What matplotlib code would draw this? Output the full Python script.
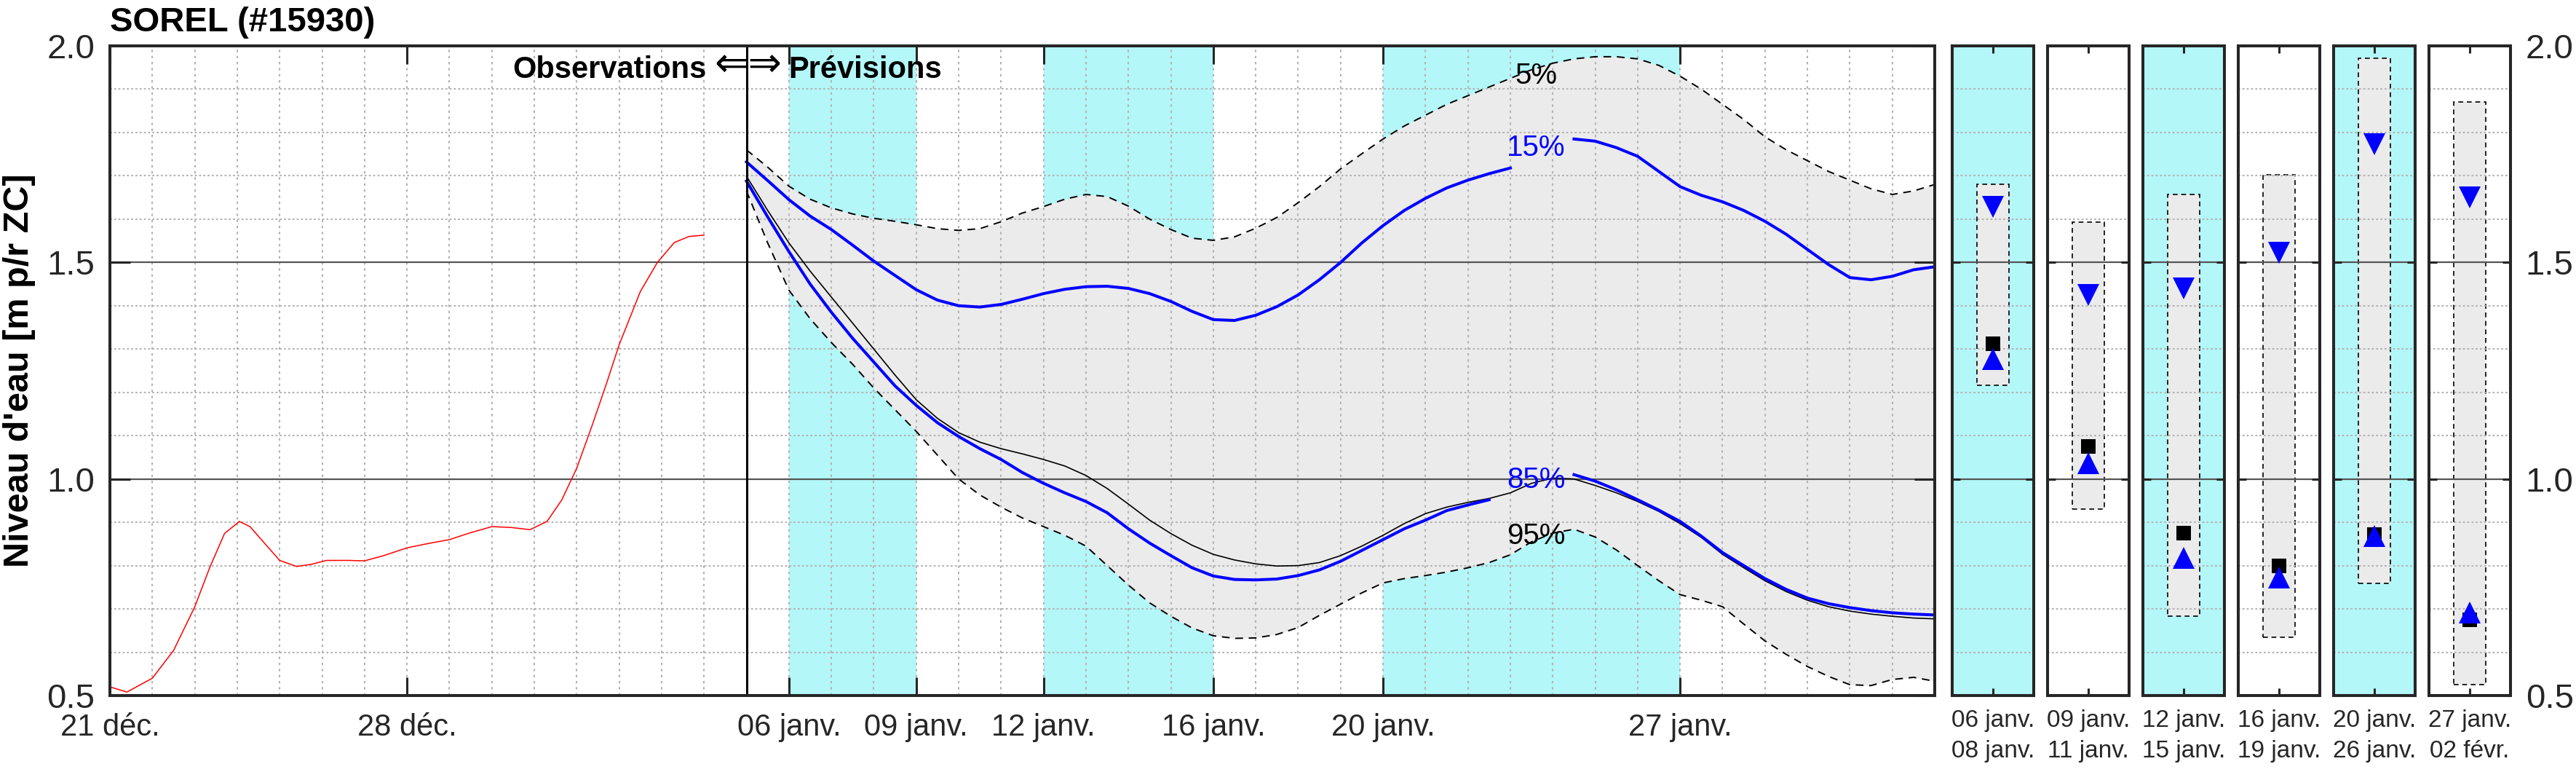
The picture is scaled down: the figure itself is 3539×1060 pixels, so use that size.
import numpy as np
import matplotlib.pyplot as plt
from matplotlib.patches import Rectangle
from matplotlib.ticker import MultipleLocator

plt.rcParams['font.family'] = ['Liberation Sans', 'DejaVu Sans']

# ---- axe des x : jours depuis le 21 déc.
tick_days = [0, 7, 16, 19, 22, 26, 30, 37]
tick_labels = ["21 déc.", "28 déc.", "06 janv.", "09 janv.", "12 janv.",
               "16 janv.", "20 janv.", "27 janv."]
boundary_day = 15
x_end = 43
bands = [(16, 19), (22, 26), (30, 37)]

# ---- observations (rouge)
obs_days = [0, 0.4, 1.0, 1.5, 2.0, 2.35, 2.7, 3.05, 3.3, 3.65, 4.0, 4.4, 4.75,
            5.1, 5.6, 6.0, 6.45, 7.0, 7.5, 8.0, 8.5, 9.0, 9.45, 9.9, 10.3,
            10.65, 11.0, 11.35, 11.7, 12.0, 12.5, 12.9, 13.3, 13.65, 14.0]
obs_level = [0.52, 0.508, 0.54, 0.604, 0.705, 0.795, 0.874, 0.902, 0.89,
             0.851, 0.812, 0.798, 0.803, 0.812, 0.812, 0.811, 0.823, 0.841,
             0.851, 0.86, 0.876, 0.89, 0.888, 0.883, 0.902, 0.952, 1.025,
             1.12, 1.22, 1.31, 1.433, 1.50, 1.546, 1.56, 1.563]

# ---- prévisions (pas de 0.5 jour, du 05 janv. au 02 févr.)
fc_days = np.arange(15, 43.01, 0.5)
p05 = [1.76, 1.72, 1.676, 1.646, 1.626, 1.612, 1.602, 1.595, 1.587, 1.578,
       1.574, 1.578, 1.594, 1.614, 1.629, 1.646, 1.657, 1.652, 1.630, 1.600,
       1.576, 1.556, 1.551, 1.559, 1.579, 1.604, 1.638, 1.675, 1.716, 1.751,
       1.785, 1.815, 1.84, 1.865, 1.885, 1.905, 1.925, 1.945, 1.96, 1.97,
       1.975, 1.975, 1.97, 1.955, 1.93, 1.90, 1.865, 1.83, 1.79, 1.76,
       1.735, 1.71, 1.69, 1.67, 1.657, 1.665, 1.68]
p15 = [1.732, 1.689, 1.645, 1.607, 1.576, 1.54, 1.503, 1.47, 1.437, 1.413,
       1.40, 1.397, 1.403, 1.415, 1.428, 1.438, 1.444, 1.445, 1.44, 1.428,
       1.41, 1.387, 1.368, 1.366, 1.378, 1.398, 1.425, 1.46, 1.50, 1.545,
       1.585, 1.62, 1.648, 1.672, 1.69, 1.705, 1.718, np.nan, np.nan, 1.785,
       1.78, 1.765, 1.745, 1.71, 1.675, 1.655, 1.64, 1.62, 1.595, 1.565,
       1.53, 1.495, 1.465, 1.46, 1.468, 1.483, 1.49]
p_mid = [1.699, 1.62, 1.545, 1.48, 1.42, 1.36, 1.30, 1.24, 1.183, 1.14,
         1.107, 1.085, 1.07, 1.058, 1.045, 1.03, 1.008, 0.978, 0.942, 0.905,
         0.874, 0.847, 0.826, 0.813, 0.804, 0.799, 0.80, 0.807, 0.823, 0.845,
         0.87, 0.897, 0.92, 0.935, 0.946, 0.955, 0.968, 0.99, 1.002, 1.0,
         0.985, 0.968, 0.948, 0.925, 0.897, 0.865, 0.826, 0.795, 0.765, 0.74,
         0.72, 0.705, 0.695, 0.688, 0.683, 0.679, 0.677]
p85 = [1.688, 1.605, 1.525, 1.45, 1.385, 1.325, 1.27, 1.215, 1.17, 1.13,
       1.098, 1.07, 1.045, 1.015, 0.99, 0.968, 0.948, 0.922, 0.885, 0.852,
       0.823, 0.795, 0.776, 0.768, 0.767, 0.769, 0.777, 0.79, 0.81, 0.835,
       0.86, 0.885, 0.905, 0.927, 0.94, 0.952, np.nan, np.nan, np.nan, 1.01,
       0.995, 0.975, 0.952, 0.928, 0.902, 0.868, 0.83, 0.80, 0.77, 0.745,
       0.725, 0.712, 0.703, 0.696, 0.691, 0.688, 0.686]
p95 = [1.665, 1.545, 1.436, 1.37, 1.315, 1.265, 1.21, 1.16, 1.11, 1.055,
       1.0, 0.963, 0.935, 0.91, 0.89, 0.87, 0.845, 0.80, 0.755, 0.714,
       0.683, 0.656, 0.638, 0.632, 0.633, 0.641, 0.657, 0.685, 0.711, 0.737,
       0.76, 0.77, 0.777, 0.785, 0.795, 0.807, 0.825, 0.855, 0.875, 0.884,
       0.866, 0.836, 0.80, 0.765, 0.733, 0.72, 0.705, 0.665, 0.626, 0.595,
       0.567, 0.544, 0.525, 0.523, 0.537, 0.542, 0.533]

# ---- panneaux de synthèse par période
period_start = ["06 janv.", "09 janv.", "12 janv.", "16 janv.", "20 janv.", "27 janv."]
period_end = ["08 janv.", "11 janv.", "15 janv.", "19 janv.", "26 janv.", "02 févr."]
period_low = [1.217, 0.931, 0.684, 0.635, 0.759, 0.526]
period_high = [1.681, 1.593, 1.657, 1.703, 1.972, 1.870]
period_p15 = [1.629, 1.425, 1.44, 1.523, 1.773, 1.651]
period_p85 = [1.277, 1.037, 0.817, 0.772, 0.868, 0.692]
period_mid = [1.313, 1.075, 0.875, 0.799, 0.871, 0.675]

CYAN = "#b3f7f9"
FILL = "#ebebeb"
DARK = "#262626"
GRID = "#b4b4b4"

W, H = 3539, 1060
fig = plt.figure(figsize=(W / 100, H / 100), dpi=100)


def px_axes(l, t, r, b):
    return fig.add_axes([l / W, 1 - b / H, (r - l) / W, (b - t) / H])


def style_y(a):
    a.set_ylim(0.5, 2.0)
    a.set_yticks([0.5, 1.0, 1.5, 2.0])
    a.set_yticklabels(["0.5", "1.0", "1.5", "2.0"])
    a.yaxis.set_minor_locator(MultipleLocator(0.1))
    a.grid(which="minor", axis="y", color=GRID, lw=1.5, ls=(0, (1.3, 1.5)))
    a.grid(which="major", axis="y", color="#555555", lw=1.6, ls="-")
    a.set_axisbelow(True)
    for s in a.spines.values():
        s.set_linewidth(2.9)
        s.set_color(DARK)
        s.set_zorder(6)


# ---- graphique principal
ax = px_axes(151, 63, 2658, 955)
ax.set_xlim(0, x_end)
style_y(ax)
ax.set_xticks(tick_days)
ax.set_xticklabels(tick_labels)
ax.xaxis.set_minor_locator(MultipleLocator(1))
ax.grid(which="both", axis="x", color=GRID, lw=1.5, ls=(0, (1.6, 2.4)))
ax.tick_params(axis="x", which="major", direction="in", length=18, width=2.2,
               top=True, labelsize=30, pad=17, colors=DARK)
ax.tick_params(axis="y", which="major", direction="in", length=20, width=2.2,
               right=True, labelsize=34, pad=15, colors=DARK)
ax.tick_params(which="minor", length=0)

for a, b in bands:
    ax.axvspan(a, b, color=CYAN, lw=0, zorder=0.1)
ax.fill_between(fc_days, p95, p05, color=FILL, lw=0, zorder=0.3)

ax.plot(obs_days, obs_level, color="red", lw=1.1, zorder=3)
ax.plot(fc_days, p05, color="k", lw=1.4, ls=(0, (5.5, 4)), zorder=3)
ax.plot(fc_days, p95, color="k", lw=1.4, ls=(0, (5.5, 4)), zorder=3)
ax.plot(fc_days, p_mid, color="k", lw=1.2, zorder=3)
ax.plot(fc_days, p15, color="blue", lw=2.9, zorder=4)
ax.plot(fc_days, p85, color="blue", lw=2.9, zorder=4)
ax.axvline(boundary_day, color="k", lw=2.2, zorder=5)

ax.text(33.6, 1.931, "5%", fontsize=29, color="k", ha="center", va="center", zorder=6)
ax.text(33.6, 1.765, "15%", fontsize=29, color="blue", ha="center", va="center", zorder=6)
ax.text(33.6, 0.998, "85%", fontsize=29, color="blue", ha="center", va="center", zorder=6)
ax.text(33.6, 0.868, "95%", fontsize=29, color="k", ha="center", va="center", zorder=6)

ax.text(14.05, 1.926, "Observations", fontsize=30, fontweight="bold",
        ha="right", va="baseline", zorder=6)
ax.text(15.03, 1.93, "⇐⇒", fontsize=40, family="DejaVu Sans",
        ha="center", va="baseline", zorder=6)
ax.text(15.99, 1.926, "Prévisions", fontsize=30, fontweight="bold",
        ha="left", va="baseline", zorder=6)

fig.text(151 / W, 1 - 43 / H, "SOREL (#15930)", fontsize=34, fontweight="bold",
         ha="left", va="baseline")
fig.text(27 / W, 1 - 509 / H, "Niveau d'eau [m p/r ZC]", fontsize=35,
         fontweight="bold", rotation=90, ha="center", va="center")

# ---- panneaux
for i in range(6):
    pa = px_axes(2682 + 131 * i, 63, 2794 + 131 * i, 955)
    pa.set_xlim(-1, 1)
    style_y(pa)
    if i % 2 == 0:
        pa.set_facecolor(CYAN)
    low, high = period_low[i], period_high[i]
    pa.add_patch(Rectangle((-0.4, low), 0.8, high - low, facecolor=FILL,
                           edgecolor="k", lw=1.2, ls=(0, (4, 3)), zorder=0.3))
    pa.plot(0, period_p15[i], "v", color="blue", ms=21, mew=0, zorder=3)
    pa.plot(0, period_mid[i], "s", color="k", ms=14, mew=0, zorder=3)
    pa.plot(0, period_p85[i], "^", color="blue", ms=21, mew=0, zorder=4)
    pa.set_xticks([0])
    pa.set_xticklabels([period_start[i] + "\n" + period_end[i]], linespacing=1.45)
    pa.tick_params(axis="x", direction="in", length=7, width=2.2, top=True,
                   labelsize=24, pad=14, colors=DARK)
    pa.tick_params(axis="y", which="major", direction="in", length=8, width=2.2,
                   left=True, right=True, labelleft=False,
                   labelright=(i == 5), labelsize=34, pad=15, colors=DARK)
    pa.tick_params(which="minor", length=0)

fig.savefig("out.png", dpi=100)
